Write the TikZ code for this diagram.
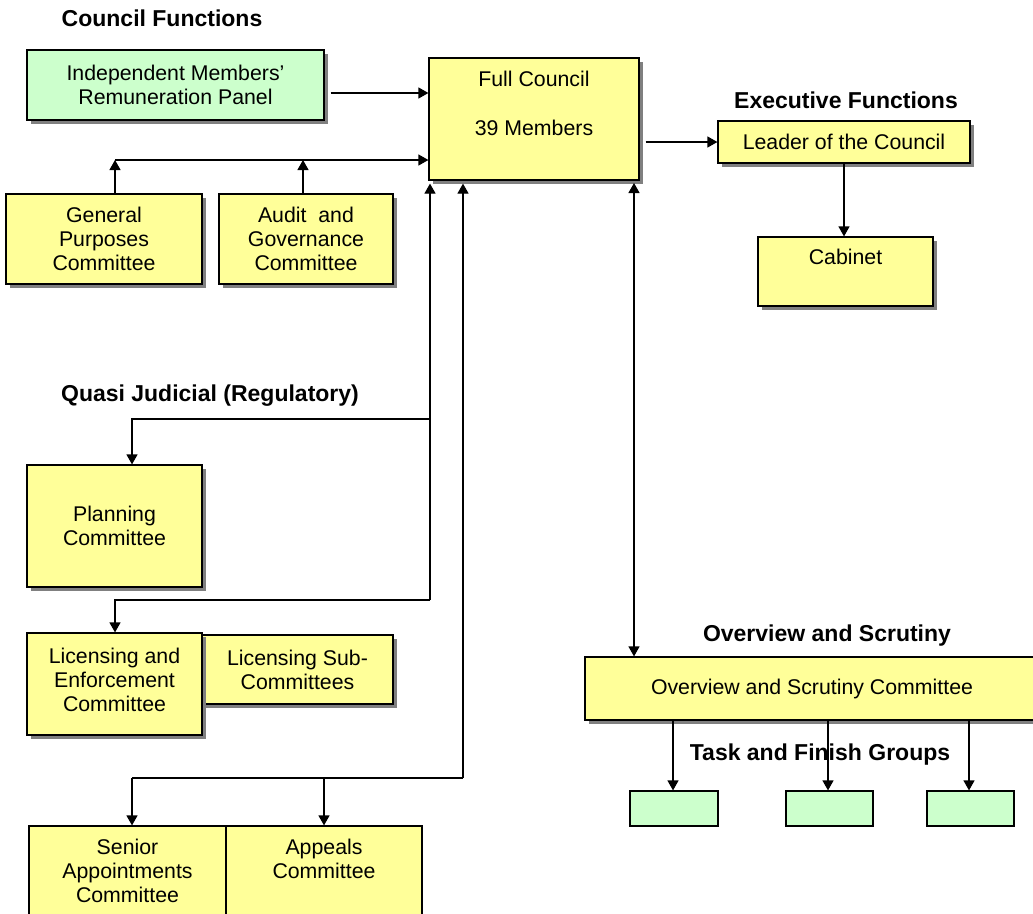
\documentclass[tikz,border=0pt]{standalone}
\usepackage{fontspec}
\setmainfont{Liberation Sans}
\usetikzlibrary{arrows.meta,shadows}
\definecolor{yel}{HTML}{FFFF99}
\definecolor{grn}{HTML}{CCFFCC}
\definecolor{shadc}{HTML}{808080}
\newcommand{\bodyfont}{\fontsize{21.3pt}{24pt}\selectfont}
\newcommand{\headfont}{\fontsize{23pt}{26pt}\selectfont\bfseries}
\begin{document}
\begin{tikzpicture}[x=1pt,y=-1pt,
  ybox/.style={draw=black, line width=1.2pt, fill=yel, inner sep=0pt, align=center, font=\bodyfont},
  gbox/.style={draw=black, line width=1.2pt, fill=grn, inner sep=0pt, align=center, font=\bodyfont},
  shd/.style={drop shadow={shadow xshift=4pt, shadow yshift=-4pt, fill=shadc, opacity=1}},
  head/.style={font=\headfont, inner sep=0pt, text height=16.5pt, text depth=0pt},
  txt/.style={font=\bodyfont, inner sep=0pt, text height=15.3pt, text depth=0pt},
  ln/.style={line width=1.2pt},
  arr/.style={line width=1.2pt, -{Triangle[length=10pt,width=11pt]}},
  arrboth/.style={line width=1.2pt, {Triangle[length=10pt,width=11pt]}-{Triangle[length=10pt,width=11pt]}}]
\useasboundingbox (0,0) rectangle (1033,913);
\clip (0,0) rectangle (1033,913);
\fill[white] (0,0) rectangle (1033,913);

% headers
\node[head] (hcf) at (162,18) {Council Functions};
\node[head] (hef) at (846,100) {Executive Functions};
\node[head] (hqj) at (210,393) {Quasi Judicial (Regulatory)};
\node[head] (hos) at (827,633) {Overview and Scrutiny};
\node[head] (htf) at (820,752) {Task and Finish Groups};

% boxes
\node[gbox,shd,minimum width=297pt,minimum height=70pt] (imrp) at (175.5,85) {Independent Members’\\Remuneration Panel};
\node[ybox,shd,minimum width=210pt,minimum height=122pt] (fc) at (534,119) {};
\node[txt] (fct1) at (534,79) {Full Council};
\node[txt] (fct2) at (534,128) {39 Members};
\node[ybox,shd,minimum width=252pt,minimum height=42pt] (leader) at (844,142) {Leader of the Council};
\node[ybox,shd,minimum width=175pt,minimum height=69pt] (cab) at (845.5,271.5) {};
\node[txt] (cabt) at (845.5,257) {Cabinet};
\node[ybox,shd,minimum width=196pt,minimum height=90pt] (gp) at (104,239) {General\\Purposes\\Committee};
\node[ybox,shd,minimum width=174pt,minimum height=90pt] (aud) at (306,239) {Audit\ \ and\\Governance\\Committee};
\node[ybox,shd,minimum width=175pt,minimum height=122pt] (plan) at (114.5,526) {Planning\\Committee};
\node[ybox,shd,minimum width=191pt,minimum height=69pt] (lsub) at (297.5,669.5) {Licensing Sub-\\Committees};
\node[ybox,shd,minimum width=175pt,minimum height=102pt] (le) at (114.5,684) {Licensing and\\Enforcement\\Committee\\[-16pt]\mbox{}};
\node[ybox,minimum width=197pt,minimum height=90pt] (sen) at (127.5,871) {Senior\\Appointments\\Committee};
\node[ybox,minimum width=196pt,minimum height=90pt] (app) at (324,871) {Appeals\\Committee\\\mbox{}};
\node[ybox,shd,minimum width=454pt,minimum height=63pt] (osc) at (812,688.5) {Overview and Scrutiny Committee};
\node[gbox,minimum width=88pt,minimum height=35pt] (tf1) at (674,808.5) {};
\node[gbox,minimum width=87pt,minimum height=35pt] (tf2) at (829.5,808.5) {};
\node[gbox,minimum width=87pt,minimum height=35pt] (tf3) at (970.5,808.5) {};

% coordinates
\coordinate (j1) at (115,160);
\coordinate (j2) at (303,160);
\coordinate (q1) at (430,419);
\coordinate (q2) at (430,600);
\coordinate (p1) at (132,419);
\coordinate (l1) at (115,600);
\coordinate (s0) at (463,778);
\coordinate (s1) at (132,778);
\coordinate (s2) at (324,778);
\coordinate (o1) at (634,183);

% connectors
\draw[arr] ([xshift=6pt,yshift=-8pt]imrp.east) -- ([yshift=-8pt]fc.west |- imrp.east);
\draw[arr] (j1) -- (fc.west |- j1);
\draw[arr] (j1 |- gp.north) -- (j1);
\draw[arr] (j2 |- aud.north) -- (j2);
\draw[arr] ([xshift=6pt]fc.east |- leader.west) -- (leader.west);
\draw[arr] (leader.south) -- (leader.south |- cab.north);
\draw[arr] (q2) -- ([yshift=-3pt]q2 |- fc.south);
\draw[arr] (q1) -- (p1) -- (p1 |- plan.north);
\draw[arr] (q2) -- (l1) -- (l1 |- le.north);
\draw[arr] (s0) -- ([yshift=-3pt]s0 |- fc.south);
\draw[ln] (s0) -- (s1);
\draw[arr] (s1) -- (s1 |- sen.north);
\draw[arr] (s2) -- (s2 |- app.north);
\draw[arrboth] (o1) -- (o1 |- osc.north);
\draw[arr] ([xshift=-1pt]tf1.north |- osc.south) -- ([xshift=-1pt]tf1.north);
\draw[arr] ([xshift=-1.5pt]tf2.north |- osc.south) -- ([xshift=-1.5pt]tf2.north);
\draw[arr] ([xshift=-1.5pt]tf3.north |- osc.south) -- ([xshift=-1.5pt]tf3.north);
\end{tikzpicture}
\end{document}
